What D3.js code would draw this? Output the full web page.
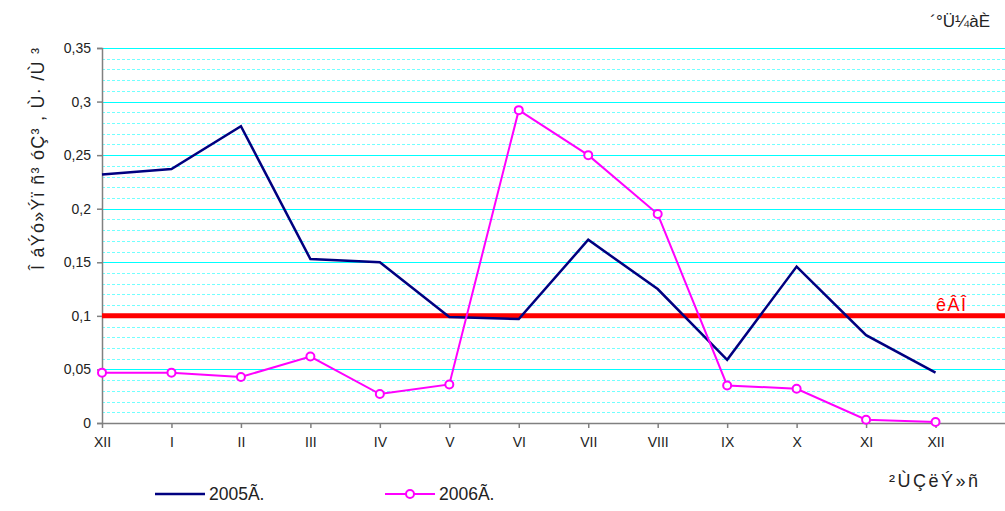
<!DOCTYPE html>
<html>
<head>
<meta charset="utf-8">
<script src="https://cdn.jsdelivr.net/npm/d3@7"></script>
<style>
  body { margin: 0; background: #fff; }
  svg { font-family: "Liberation Sans", Arial, sans-serif; }
</style>
</head>
<body>
<svg id="chart" width="1005" height="511"></svg>
<script>
const months = ['XII', 'I', 'II', 'III', 'IV', 'V', 'VI', 'VII', 'VIII', 'IX', 'X', 'XI', 'XII'];
const values2005 = [0.232, 0.237, 0.277, 0.153, 0.150, 0.099, 0.097, 0.171, 0.125, 0.059, 0.146, 0.082, 0.047];
const values2006 = [0.047, 0.047, 0.043, 0.062, 0.027, 0.036, 0.292, 0.250, 0.195, 0.035, 0.032, 0.003, 0.001];
const limitValue = 0.1;
const yTicks = [0, 0.05, 0.1, 0.15, 0.2, 0.25, 0.3, 0.35];

const width = 1005;
const height = 511;
const margin = { left: 102, right: 0, top: 48, bottom: 88 };

const svg = d3.select('#chart');

const x = d3.scaleLinear()
  .domain([0, months.length])
  .range([margin.left, width - margin.right]);
const y = d3.scaleLinear()
  .domain([0, 0.35])
  .range([height - margin.bottom, margin.top]);

// minor grid every 0.01
svg.append('g')
  .selectAll('line')
  .data(d3.range(1, 36).filter(d => d % 5 !== 0).map(d => d / 100))
  .join('line')
  .attr('x1', margin.left).attr('x2', width - margin.right)
  .attr('y1', d => Math.round(y(d)) + 0.5).attr('y2', d => Math.round(y(d)) + 0.5)
  .attr('stroke', '#00ffff')
  .attr('stroke-opacity', 0.55)
  .attr('stroke-dasharray', '3,2');

// major grid
svg.append('g')
  .selectAll('line')
  .data(yTicks.slice(1))
  .join('line')
  .attr('x1', margin.left).attr('x2', width - margin.right)
  .attr('y1', d => Math.round(y(d)) + 0.5).attr('y2', d => Math.round(y(d)) + 0.5)
  .attr('stroke', '#00ffff');

// axes
const fmt = d => String(d).replace('.', ',');
svg.append('g')
  .attr('transform', `translate(${margin.left},0)`)
  .call(d3.axisLeft(y).tickValues(yTicks).tickFormat(fmt).tickSize(5).tickPadding(6))
  .call(g => g.selectAll('line, path').attr('stroke', '#808080').attr('stroke-width', 1.5))
  .call(g => g.selectAll('text').attr('font-size', 14).attr('fill', '#222'));

svg.append('g')
  .attr('transform', `translate(0,${y(0)})`)
  .call(d3.axisBottom(x).tickValues(d3.range(months.length)).tickFormat(i => months[i]).tickSize(5).tickSizeOuter(0).tickPadding(9))
  .call(g => g.selectAll('line, path').attr('stroke', '#808080').attr('stroke-width', 1.5))
  .call(g => g.selectAll('text').attr('font-size', 14).attr('fill', '#222'));

// limit line
svg.append('line')
  .attr('x1', margin.left).attr('x2', width - margin.right)
  .attr('y1', y(limitValue)).attr('y2', y(limitValue))
  .attr('stroke', '#ff0000').attr('stroke-width', 5);
svg.append('text')
  .attr('x', 936).attr('y', y(limitValue) - 5)
  .attr('font-size', 18).attr('fill', '#ff0000')
  .attr('letter-spacing', 1.5)
  .text('êÂÎ');

const line = d3.line().x((d, i) => x(i)).y(d => y(d));

svg.append('path')
  .datum(values2005)
  .attr('d', line)
  .attr('fill', 'none')
  .attr('stroke', '#000080')
  .attr('stroke-width', 2.5);

svg.append('path')
  .datum(values2006)
  .attr('d', line)
  .attr('fill', 'none')
  .attr('stroke', '#ff00ff')
  .attr('stroke-width', 2);

svg.append('g')
  .selectAll('circle')
  .data(values2006)
  .join('circle')
  .attr('cx', (d, i) => x(i))
  .attr('cy', d => y(d))
  .attr('r', 4)
  .attr('fill', '#fff')
  .attr('stroke', '#ff00ff')
  .attr('stroke-width', 2);

// titles
svg.append('text')
  .attr('x', 990).attr('y', 27)
  .attr('text-anchor', 'end')
  .attr('font-size', 17).attr('fill', '#222')
  .text('´°Ü¼àÈ');

svg.append('text')
  .attr('transform', 'translate(44,270) rotate(-90)')
  .attr('font-size', 18).attr('fill', '#222')
  .attr('textLength', 222).attr('lengthAdjust', 'spacing')
  .text('Î áÝó»Ýï ñ³ óÇ³ , Ù· /Ù ³');

svg.append('text')
  .attr('x', 889).attr('y', 487)
  .attr('font-size', 18).attr('fill', '#222')
  .attr('letter-spacing', 2.5)
  .text('²ÙÇëÝ»ñ');

// legend
const legend = svg.append('g').attr('transform', 'translate(0,494)');
legend.append('line').attr('x1', 155).attr('x2', 205).attr('y1', 0).attr('y2', 0)
  .attr('stroke', '#000080').attr('stroke-width', 2.5);
legend.append('text').attr('x', 209).attr('y', 6).attr('font-size', 17.5).attr('fill', '#222').text('2005Ã.');
legend.append('line').attr('x1', 385).attr('x2', 435).attr('y1', 0).attr('y2', 0)
  .attr('stroke', '#ff00ff').attr('stroke-width', 2);
legend.append('circle').attr('cx', 410).attr('cy', 0).attr('r', 4)
  .attr('fill', '#fff').attr('stroke', '#ff00ff').attr('stroke-width', 2);
legend.append('text').attr('x', 439).attr('y', 6).attr('font-size', 17.5).attr('fill', '#222').text('2006Ã.');
</script>
</body>
</html>
